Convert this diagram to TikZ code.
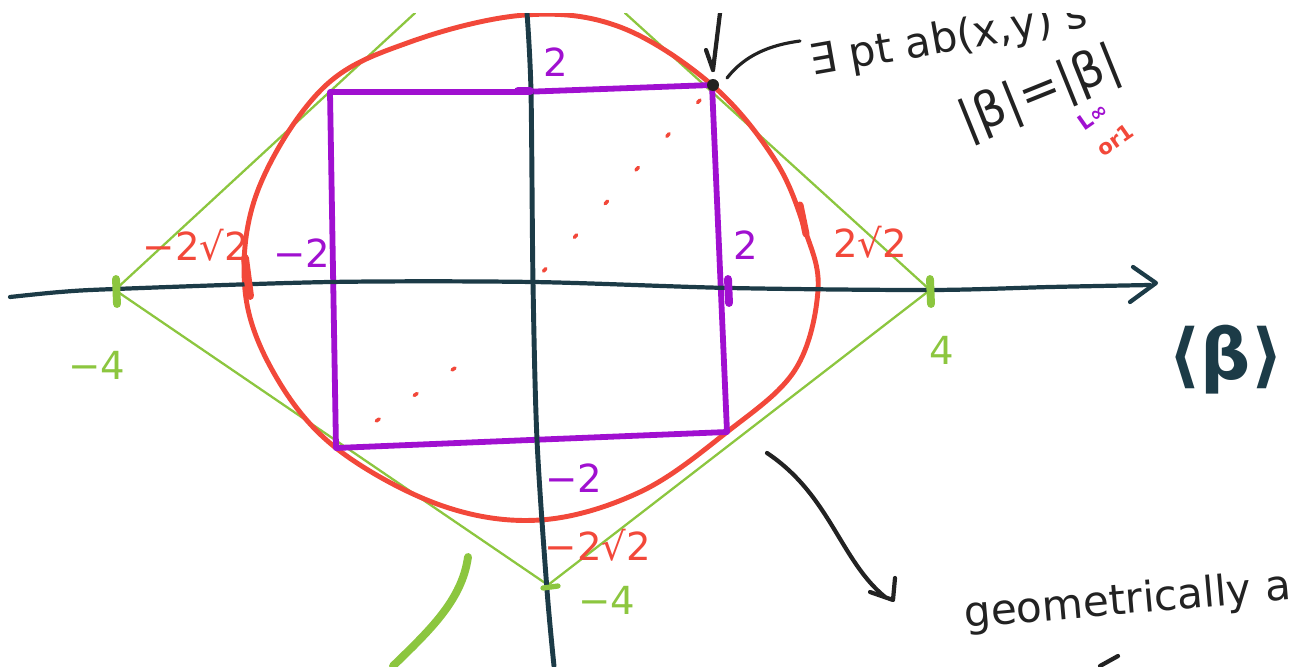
\documentclass[tikz,border=0pt]{standalone}
\usepackage{fontspec}
\setmainfont{DejaVu Sans}
\definecolor{axc}{HTML}{1C3B47}
\definecolor{redc}{HTML}{F2483A}
\definecolor{purc}{HTML}{A010D0}
\definecolor{grnc}{HTML}{8CC63F}
\definecolor{inkc}{HTML}{222222}
\begin{document}
\begin{tikzpicture}[x=0.02cm,y=-0.02cm,line cap=round,line join=round,
  axisline/.style={draw=axc,line width=2.4pt},
  redline/.style={draw=redc,line width=2.8pt},
  purline/.style={draw=purc,line width=3.3pt},
  grnline/.style={draw=grnc,line width=1.3pt},
  inkline/.style={draw=inkc,line width=2.4pt},
  lbl/.style={inner sep=0pt,font=\fontsize{22}{26}\selectfont},
  redlbl/.style={lbl,text=redc},
  purlbl/.style={lbl,text=purc},
  grnlbl/.style={lbl,text=grnc}]
\useasboundingbox (0,0) rectangle (1291,666);
\begin{scope}
\clip (0,13) rectangle (1291,666);
% green diamond (L1 ball)
\draw[grnline] (415,13) -- (115,290) -- (548,585) -- (930,290) -- (625,13);
% red circle (L2 ball)
\draw[redline] plot[smooth cycle,tension=0.6] coordinates {(525,15) (620,27) (712,85) (775,160) (805,230) (818,290) (795,370) (727,432) (640,492) (540,520) (440,505) (336,448) (275,375) (245,290) (258,190) (323,88) (410,42)};
% purple square (Linf ball)
\draw[purline] (330,92) -- (522,92) -- (712,85) -- (727,432) -- (530,440) -- (336,448) -- cycle;
% red dotted diagonal
\draw[redc,line width=2pt,dash pattern=on 2pt off 24pt] (700,100) -- (540,275);
\draw[redc,line width=2pt,dash pattern=on 2pt off 24pt] (455,368) -- (345,442);
% axes
\draw[axisline] plot[smooth,tension=0.5] coordinates {(10,297) (60,292) (115,289) (330,282) (533,282) (730,288) (930,290) (1050,287) (1150,285)};
\draw[axisline] (1133,267) -- (1156,283) -- (1130,302);
\draw[axisline,line width=2.8pt] plot[smooth,tension=0.5] coordinates {(527,13) (531,92) (533,283) (537,440) (547,590) (554,666)};
% ticks
\draw[grnc,line width=4.5pt] (116,279) -- (117,304);
\draw[grnc,line width=4.5pt] (930,279) -- (931,304);
\draw[grnc,line width=3pt] (543,588) -- (558,586);
\draw[redc,line width=4.5pt] (245,258) -- (250,296);
\draw[redc,line width=4pt] (800,205) -- (806,234);
\draw[purc,line width=4.5pt] (728,279) -- (729,303);
\draw[purc,line width=4.5pt] (518,91) -- (530,91);
% bottom-left green stroke
\draw[grnc,line width=4.5pt] (468,557) .. controls (462,600) and (430,630) .. (393,666);
% labels
\node[purlbl] (p2t) at (556,62) {2};
\node[purlbl] (pm2l) at (302,253) {−2};
\node[purlbl] (p2r) at (746,245) {2};
\node[purlbl] (pm2b) at (574,478) {−2};
\node[redlbl] (rm2l) at (196,245) {−2√2};
\node[redlbl] (r2r) at (870,242) {2√2};
\node[redlbl] (rm2b) at (598,545) {−2√2};
\node[grnlbl] (gm4l) at (97,365) {−4};
\node[grnlbl] (g4r) at (942,350) {4};
\node[grnlbl] (gm4b) at (607,600) {−4};
\node[inner sep=0pt,text=axc,font=\fontsize{40}{44}\selectfont\bfseries] (beta) at (1226,360) {⟨β⟩};
% annotation at the corner point
\coordinate (P) at (713,85);
\fill[inkc] (P) circle (6);
\draw[inkline] (720,13) -- (713,70);
\draw[inkline] (706,50) -- (713,70);
\node[inner sep=0pt,anchor=base west,rotate=10,text=inkc,font=\fontsize{24}{28}\selectfont] (exists) at (812,76) {∃ pt ab(x,y) s};
\draw[inkc,line width=1.8pt] (727,78) .. controls (745,55) and (770,45) .. (800,41);
\node[inner sep=0pt,anchor=base west,rotate=22,text=inkc,font=\fontsize{28}{32}\selectfont] (norms) at (966,138) {|β|=|β|};
\node[inner sep=0pt,rotate=35,text=purc,font=\fontsize{12}{14}\selectfont\bfseries] (linf) at (1093,116) {L∞};
\node[inner sep=0pt,rotate=35,text=redc,font=\fontsize{12}{14}\selectfont\bfseries] (orone) at (1115,140) {or1};
% bottom right arrow and text
\node[inner sep=0pt,anchor=base west,rotate=5,text=inkc,font=\fontsize{24}{28}\selectfont] (geo) at (965,628) {geometrically a};
\coordinate (A0) at (767,453);
\coordinate (A1) at (885,597);
\draw[inkline] (A0) .. controls (830,495) and (840,560) .. (A1);
\draw[inkline] (895,578) -- (893,600) -- (870,592);
\draw[inkline] (1100,666) -- (1118,656);
\end{scope}
\end{tikzpicture}
\end{document}
